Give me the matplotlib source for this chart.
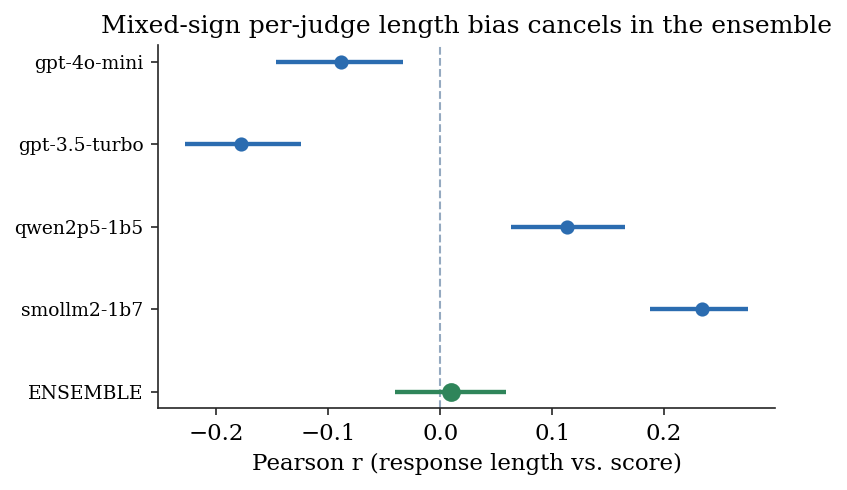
import matplotlib
matplotlib.use("Agg")
import matplotlib.pyplot as plt
import seaborn as sns

judges = ["ENSEMBLE", "smollm2-1b7", "qwen2p5-1b5", "gpt-3.5-turbo", "gpt-4o-mini"]
r_point = [0.010, 0.234, 0.113, -0.178, -0.089]
ci_low = [-0.040, 0.187, 0.063, -0.228, -0.147]
ci_high = [0.059, 0.275, 0.165, -0.124, -0.033]

sns.set_style("ticks")
plt.rcParams["font.family"] = ["DejaVu Serif"]
plt.rcParams["text.color"] = "black"
plt.rcParams["axes.labelcolor"] = "black"
plt.rcParams["xtick.labelcolor"] = "black"
plt.rcParams["ytick.labelcolor"] = "black"

blue = "#2b6cb0"
green = "#2f855a"

fig = plt.figure(figsize=(847 / 150, 490 / 150), dpi=150)
ax = fig.add_axes([0.1865, 0.167, 0.7285, 0.741])

ax.axvline(0, color="#94a9c0", linestyle="--", linewidth=1.0, zorder=1)
for i, name in enumerate(judges):
    c = green if name == "ENSEMBLE" else blue
    ms = 8 if name == "ENSEMBLE" else 5.8
    ax.plot([ci_low[i], ci_high[i]], [i, i], color=c, linewidth=2.1, solid_capstyle="butt", zorder=2)
    ax.plot(r_point[i], i, "o", color=c, markersize=ms, zorder=3)

ax.set_yticks(range(len(judges)))
ax.set_yticklabels(judges, fontsize=9)
ax.tick_params(axis="x", labelsize=11)
ax.set_xlim(-0.252, 0.299)
ax.set_ylim(-0.2, 4.2)
ax.set_xlabel("Pearson r (response length vs. score)", fontsize=11)
ax.set_title("Mixed-sign per-judge length bias cancels in the ensemble", fontsize=12)
sns.despine(ax=ax)

fig.savefig("out.png", dpi=150)
